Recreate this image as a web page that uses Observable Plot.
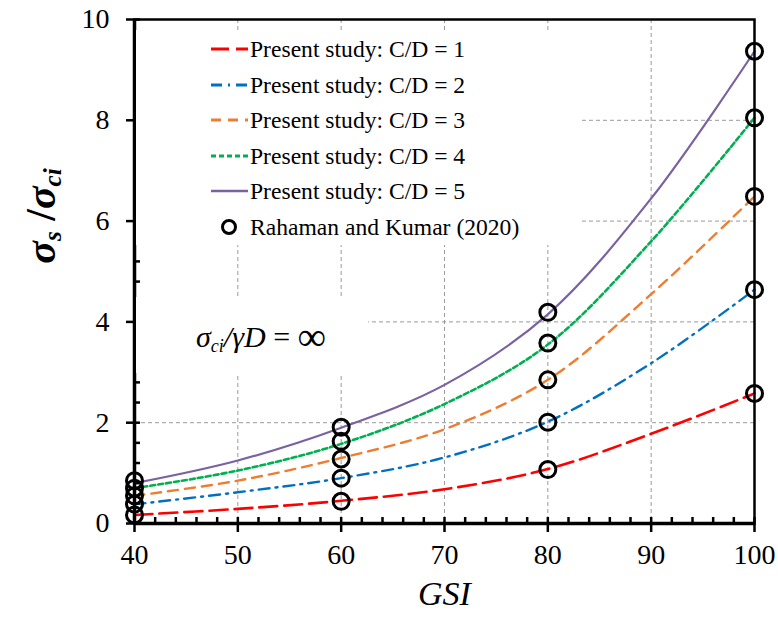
<!DOCTYPE html>
<html>
<head>
<meta charset="utf-8">
<script src="https://cdn.jsdelivr.net/npm/d3@7"></script>
<script src="https://cdn.jsdelivr.net/npm/@observablehq/plot@0.6"></script>
<style>
  body { margin: 0; background: white; }
  #wrap { position: relative; width: 778px; height: 619px; font-family: "Liberation Serif", "Times New Roman", serif; }
  #legend { position: absolute; left: 136px; top: 30px; width: 444px; height: 215px; background: white; }
  .row { position: absolute; left: 0; height: 30px; line-height: 30px; font-size: 23.6px; white-space: nowrap; }
  .row svg { position: absolute; left: 75px; top: 0; }
  .row span { position: absolute; left: 114px; top: 0; }
  #annot { position: absolute; left: 136px; top: 297px; width: 232px; height: 76px; background: white; }
  #annot div { position: absolute; left: 60px; top: 22px; font-size: 30px; line-height: 36px; white-space: nowrap; }
  #annot .inf { font-size: 40px; vertical-align: -3px; }
  #ylab { position: absolute; left: 42px; top: 216px; transform: translate(-50%, -50%) rotate(-90deg); font-size: 42px; font-weight: bold; white-space: nowrap; }
  sub { font-size: 0.6em; vertical-align: -0.25em; }
</style>
</head>
<body>
<div id="wrap"></div>
<script>
// ---- data ----
const gsi = [40, 50, 60, 70, 80, 90, 100];
const cd1 = [0.17, 0.29, 0.45, 0.68, 1.08, 1.78, 2.58];
const cd2 = [0.38, 0.62, 0.90, 1.31, 2.02, 3.18, 4.64];
const cd3 = [0.55, 0.85, 1.30, 1.87, 2.85, 4.55, 6.49];
const cd4 = [0.70, 1.05, 1.58, 2.37, 3.55, 5.60, 8.05];
const cd5 = [0.80, 1.25, 1.90, 2.75, 4.15, 6.45, 9.37];

const refGsi = [40, 60, 80, 100];
const rk1 = [0.17, 0.44, 1.07, 2.58];
const rk2 = [0.385, 0.90, 2.01, 4.64];
const rk3 = [0.55, 1.28, 2.85, 6.49];
const rk4 = [0.70, 1.63, 3.58, 8.05];
const rk5 = [0.85, 1.91, 4.19, 9.37];

const seriesNames = ["Present study: C/D = 1", "Present study: C/D = 2", "Present study: C/D = 3", "Present study: C/D = 4", "Present study: C/D = 5"];
const refName = "Rahaman and Kumar (2020)";

const xTicks = [40, 50, 60, 70, 80, 90, 100];
const xMinor = d3.range(40, 100.01, 2);
const yTicks = [0, 2, 4, 6, 8, 10];
const yMinor = d3.range(0, 10.01, 0.4).map(v => +v.toFixed(1));
const xGrid = [50, 60, 70, 80, 90];
const yGrid = [2, 4, 6, 8];

// ---- styles ----
const colors = ["#FF0000", "#0070C0", "#ED7D31", "#00B050", "#7A62A0"];
const dashes = ["18,7", "11,6,2,6", "10,7", "5,3", null];
const widths = [2.6, 2.4, 2.4, 2.6, 2.2];

const curves = [cd1, cd2, cd3, cd4, cd5];
const refs = [rk1, rk2, rk3, rk4, rk5];

const lineData = curves.map(vals => gsi.map((g, i) => ({x: g, y: vals[i]})));
const refData = refs.flatMap(vals => refGsi.map((g, i) => ({x: g, y: vals[i]})));

const plot = Plot.plot({
  width: 778,
  height: 619,
  marginLeft: 134,
  marginRight: 24,
  marginTop: 19,
  marginBottom: 96,
  x: {domain: [40, 100]},
  y: {domain: [0, 10]},
  style: {fontFamily: "Liberation Serif, Times New Roman, serif", fontSize: "28px", color: "black", background: "white"},
  marks: [
    Plot.ruleX(xGrid, {stroke: "#9a9a9a", strokeWidth: 1, strokeDasharray: "4,3"}),
    Plot.ruleY(yGrid, {stroke: "#9a9a9a", strokeWidth: 1, strokeDasharray: "4,3"}),
    ...lineData.map((d, i) => Plot.line(d, {x: "x", y: "y", stroke: colors[i], strokeWidth: widths[i], strokeDasharray: dashes[i], curve: "catmull-rom"})),
    Plot.dot(refData, {x: "x", y: "y", r: 8, stroke: "black", strokeWidth: 3, fill: "none"}),
    Plot.frame({stroke: "black", strokeWidth: 2.5}),
    Plot.axisX({ticks: xTicks, tickSize: 9, strokeWidth: 2.5, tickFormat: () => "", label: null}),
    Plot.axisX({ticks: xMinor, tickSize: -6, strokeWidth: 2.5, tickFormat: () => "", label: null}),
    Plot.axisY({ticks: yTicks, tickSize: 8, strokeWidth: 2.5, tickFormat: () => "", label: null}),
    Plot.axisY({ticks: yMinor, tickSize: -6, strokeWidth: 2.5, tickFormat: () => "", label: null}),
    Plot.ruleY([0], {stroke: "black", strokeWidth: 3.5}),
    Plot.ruleX([40], {stroke: "black", strokeWidth: 3.5}),
    // tick labels
    Plot.text(xTicks, {x: d => d, frameAnchor: "bottom", dy: 40, fontSize: 28, fill: "black", text: d => String(d)}),
    Plot.text(yTicks, {y: d => d, frameAnchor: "left", dx: -25, textAnchor: "end", fontSize: 28, fill: "black", text: d => String(d)}),
    Plot.text(["GSI"], {frameAnchor: "bottom", dy: 81, fontSize: 34, fontStyle: "italic", fill: "black"})
  ]
});

const wrap = document.getElementById("wrap");
wrap.appendChild(plot);

// legend (HTML overlay)
const legend = document.createElement("div");
legend.id = "legend";
seriesNames.forEach((name, i) => {
  const row = document.createElement("div");
  row.className = "row";
  row.style.top = (4 + i * 35.6) + "px";
  row.innerHTML = `<svg width="37" height="30"><line x1="0" y1="15" x2="37" y2="15" stroke="${colors[i]}" stroke-width="${widths[i] + 0.4}" ${dashes[i] ? `stroke-dasharray="${dashes[i]}"` : ""}/></svg><span>${name}</span>`;
  legend.appendChild(row);
});
{
  const row = document.createElement("div");
  row.className = "row";
  row.style.top = (4 + 5 * 35.6) + "px";
  row.innerHTML = `<svg width="37" height="30"><circle cx="18" cy="15" r="6.5" fill="none" stroke="black" stroke-width="3"/></svg><span>${refName}</span>`;
  legend.appendChild(row);
}
wrap.appendChild(legend);

// annotation
const annot = document.createElement("div");
annot.id = "annot";
annot.innerHTML = `<div><i>σ<sub>ci</sub>/γD</i> = <span class="inf">∞</span></div>`;
wrap.appendChild(annot);

// y label
const ylab = document.createElement("div");
ylab.id = "ylab";
ylab.innerHTML = `<i>σ<sub>s</sub></i> /<i>σ<sub>ci</sub></i>`;
wrap.appendChild(ylab);
</script>
</body>
</html>
